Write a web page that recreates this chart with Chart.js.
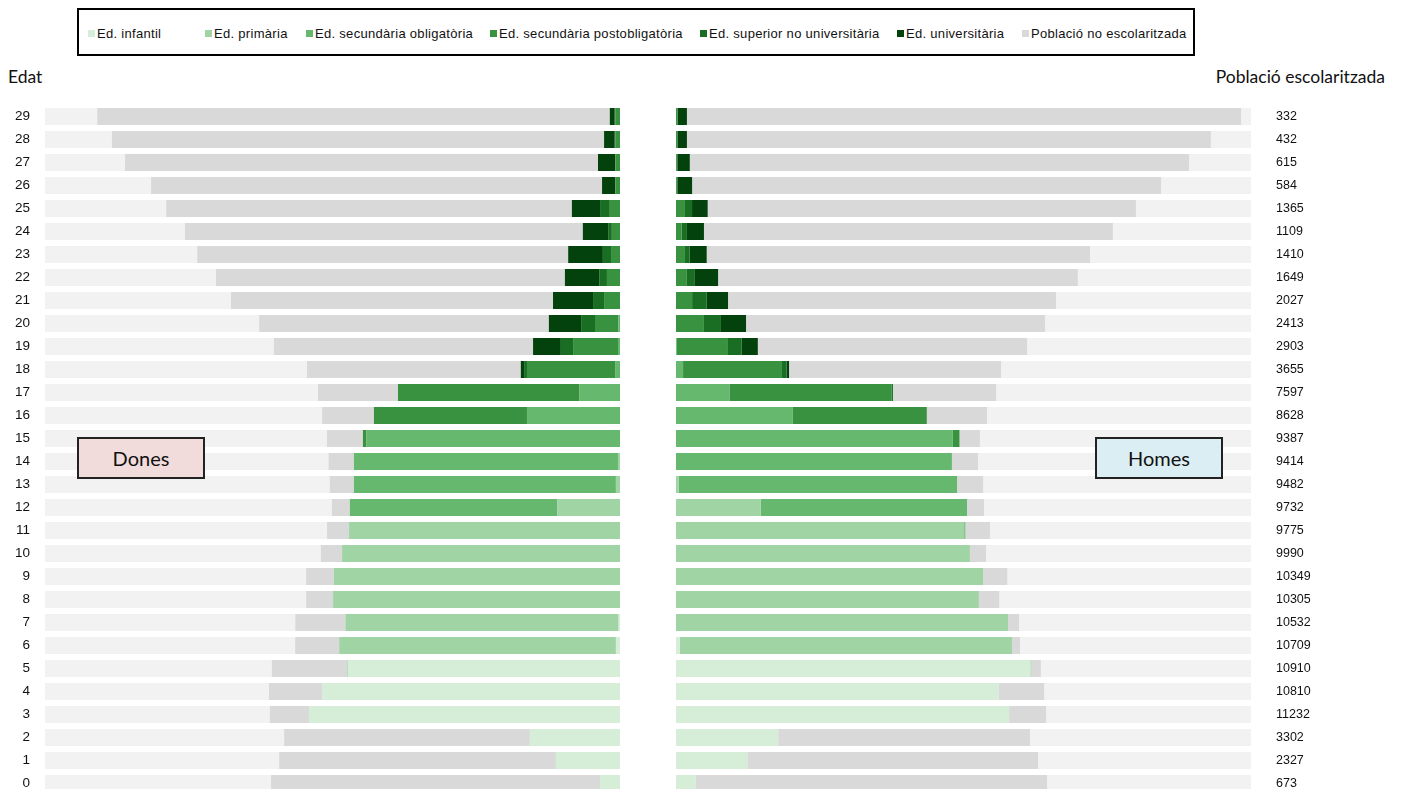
<!DOCTYPE html>
<html lang="ca">
<head>
<meta charset="utf-8">
<title>Població escolaritzada per edat i sexe</title>
<script src="https://cdn.jsdelivr.net/npm/chart.js@4.4.1/dist/chart.umd.min.js"></script>
<style>
  html, body { margin: 0; padding: 0; background: #fff; overflow: hidden; }
  body { width: 1402px; height: 789px; position: relative; font-family: "Liberation Sans", Arial, sans-serif; }
  #legend { position: absolute; left: 77px; top: 8px; width: 1114px; height: 44px; border: 2px solid #000; }
  .item { position: absolute; top: 17px; font-size: 13px; letter-spacing: 0.3px; color: #111; white-space: nowrap; line-height: 14px; }
  .item i { display: inline-block; width: 7px; height: 7px; margin-right: 2px; vertical-align: 1px; }
  .title { position: absolute; top: 66px; font-family: Lato, "Open Sans", sans-serif; font-size: 17.5px; color: #111; }
  .wrap { position: absolute; top: 105px; }
  .box { position: absolute; top: 437px; width: 124px; height: 38px; border: 2px solid #222;
         font-family: Lato, "Open Sans", sans-serif; font-size: 20px; color: #111;
         text-align: center; line-height: 38px; z-index: 5; }
</style>
</head>
<body>
<div id="legend"></div>
<div class="title" style="left:8px">Edat</div>
<div class="title" style="right:17px">Població escolaritzada</div>
<div class="wrap" style="left:0"><canvas id="dones" width="620" height="690"></canvas></div>
<div class="wrap" style="left:676px"><canvas id="homes" width="726" height="690"></canvas></div>
<div class="box" style="left:77px;background:#f2dcdb">Dones</div>
<div class="box" style="left:1095px;background:#dbeef4">Homes</div>

<script>
// categories
const edats = ['0','1','2','3','4','5','6','7','8','9','10','11','12','13','14','15',
  '16','17','18','19','20','21','22','23','24','25','26','27','28','29'];
const series = ['Ed. infantil', 'Ed. primària', 'Ed. secundària obligatòria',
  'Ed. secundària postobligatòria', 'Ed. superior no universitària',
  'Ed. universitària', 'Població no escolaritzada'];
const colors = ['#d6eed8', '#a0d4a4', '#67b86f', '#38923f', '#1a6e23', '#03420c', '#d9d9d9'];
const fons = '#f2f2f2';
const maxPob = 10000;

// total escolaritzada (right column)
const escolaritzada = [673, 2327, 3302, 11232, 10810, 10910, 10709, 10532, 10305, 10349,
  9990, 9775, 9732, 9482, 9414, 9387, 8628, 7597, 3655, 2903,
  2413, 2027, 1649, 1410, 1109, 1365, 584, 615, 432, 332];

// dones, edat 0..29
const donesInfantil = [348, 1114, 1568, 5408, 5181, 4734, 71, 25, 0, 0,
  0, 0, 0, 0, 0, 0, 0, 0, 0, 0, 0, 0, 0, 0, 0, 0, 0, 0, 0, 0];
const donesPrimaria = [0, 0, 0, 0, 0, 14, 4812, 4748, 4989, 4975,
  4833, 4712, 1093, 71, 35, 0, 0, 0, 0, 0, 0, 0, 0, 0, 0, 0, 0, 0, 0, 0];
const donesSecOblig = [0, 0, 0, 0, 0, 0, 0, 0, 0, 0,
  0, 0, 3605, 4556, 4592, 4414, 1618, 710, 85, 35, 30, 0, 0, 0, 0, 0, 0, 0, 0, 0];
const donesPostob = [0, 0, 0, 0, 0, 0, 0, 0, 0, 0,
  0, 0, 0, 0, 0, 57, 2661, 3151, 1533, 781, 405, 277, 227, 156, 142, 177, 78, 78, 78, 78];
const donesSupNoUniv = [0, 0, 0, 0, 0, 0, 0, 0, 0, 0,
  0, 0, 0, 0, 0, 0, 0, 0, 50, 213, 241, 192, 135, 142, 64, 170, 7, 7, 14, 14];
const donesUniv = [0, 0, 0, 0, 0, 0, 0, 0, 0, 0,
  0, 0, 0, 0, 0, 0, 0, 0, 57, 483, 561, 696, 596, 603, 440, 490, 227, 298, 185, 85];
const donesNoEsc = [5720, 4812, 4272, 681, 923, 1306, 766, 873, 468, 483,
  369, 383, 312, 419, 440, 625, 901, 1391, 3719, 4507,
  5039, 5600, 6068, 6451, 6920, 7054, 7842, 8225, 8559, 8914];

// homes, edat 0..29
const homesInfantil = [346, 1243, 1778, 5794, 5613, 6164, 66, 0, 0, 0,
  0, 0, 0, 0, 0, 0, 0, 0, 0, 0, 0, 0, 0, 0, 0, 0, 0, 0, 0, 0];
const homesPrimaria = [0, 0, 0, 0, 0, 16, 5777, 5777, 5267, 5341,
  5111, 5012, 1473, 49, 0, 0, 0, 0, 0, 0, 0, 0, 0, 0, 0, 0, 0, 0, 0, 0];
const homesSecOblig = [0, 0, 0, 0, 0, 0, 0, 0, 0, 0,
  0, 20, 3588, 4839, 4798, 4815, 2033, 938, 123, 15, 0, 0, 0, 0, 0, 0, 0, 0, 0, 0];
const homesPostob = [0, 0, 0, 0, 0, 0, 0, 0, 0, 0,
  0, 0, 0, 0, 0, 115, 2329, 2815, 1720, 889, 486, 280, 189, 156, 99, 156, 15, 15, 20, 25];
const homesSupNoUniv = [0, 0, 0, 0, 0, 0, 0, 0, 0, 0,
  0, 0, 0, 0, 0, 0, 0, 20, 82, 239, 296, 255, 140, 82, 91, 123, 10, 10, 10, 10];
const homesUniv = [0, 0, 0, 0, 0, 0, 0, 0, 0, 0,
  0, 0, 0, 0, 0, 0, 0, 0, 41, 280, 436, 370, 403, 296, 296, 272, 255, 215, 160, 155];
const homesNoEsc = [6107, 5053, 4378, 642, 790, 165, 140, 189, 354, 420,
  280, 428, 296, 453, 453, 354, 1045, 1794, 3687, 4683,
  5201, 5703, 6255, 6666, 7111, 7448, 8156, 8683, 9111, 9637];

// legend (html, one box across both halves)
const legendX = [9, 126, 227, 411, 621, 818, 943];
const legend = document.getElementById('legend');
series.forEach((name, i) => {
  const d = document.createElement('div');
  d.className = 'item';
  d.style.left = legendX[i] + 'px';
  d.innerHTML = `<i style="background:${colors[i]}"></i>${name}`;
  legend.appendChild(d);
});

function makeDatasets(parts) {
  const sets = parts.map((arr, i) => ({
    label: series[i],
    data: arr,
    backgroundColor: colors[i],
    stack: 'edu',
    order: 0
  }));
  // light band behind every row
  sets.push({
    label: 'fons',
    data: edats.map(() => maxPob),
    backgroundColor: fons,
    stack: 'fons',
    order: 1
  });
  return sets;
}

function makeOptions(side) {
  const left = side === 'dones';
  return {
    indexAxis: 'y',
    responsive: false,
    animation: false,
    events: [],
    layout: { padding: 0 },
    datasets: {
      bar: {
        grouped: false,
        barPercentage: 0.74,
        categoryPercentage: 1,
        borderWidth: 0
      }
    },
    plugins: { legend: { display: false }, tooltip: { enabled: false } },
    scales: {
      x: {
        stacked: true,
        display: false,
        min: 0,
        max: maxPob,
        reverse: left
      },
      y: {
        stacked: true,
        reverse: true,
        position: left ? 'left' : 'right',
        grid: { display: false, drawTicks: false },
        border: { display: false },
        ticks: {
          padding: left ? 15 : 25,
          color: '#111',
          autoSkip: false,
          font: left
            ? { family: '"Liberation Sans", Arial, sans-serif', size: 13.5 }
            : { family: '"Liberation Sans", Arial, sans-serif', size: 12.5 },
          callback: (v, i) => left ? edats[i] : escolaritzada[i]
        },
        afterFit: s => {
          s.width = left ? 45 : 151;
          s.paddingTop = 0;
          s.paddingBottom = 0;
        }
      }
    }
  };
}

new Chart('dones', {
  type: 'bar',
  data: {
    labels: edats,
    datasets: makeDatasets([donesInfantil, donesPrimaria, donesSecOblig, donesPostob,
      donesSupNoUniv, donesUniv, donesNoEsc])
  },
  options: makeOptions('dones')
});

new Chart('homes', {
  type: 'bar',
  data: {
    labels: edats,
    datasets: makeDatasets([homesInfantil, homesPrimaria, homesSecOblig, homesPostob,
      homesSupNoUniv, homesUniv, homesNoEsc])
  },
  options: makeOptions('homes')
});
</script>
</body>
</html>
